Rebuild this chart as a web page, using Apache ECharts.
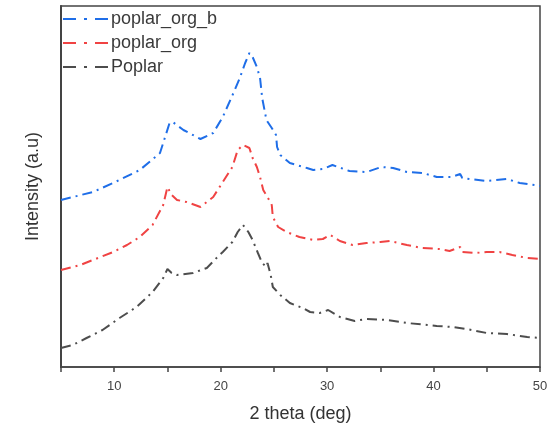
<!DOCTYPE html>
<html>
<head>
<meta charset="utf-8">
<script src="https://cdn.jsdelivr.net/npm/echarts@6/dist/echarts.min.js"></script>
<style>
  html, body { margin: 0; padding: 0; background: #fff; }
  #chart { width: 550px; height: 424px; }
</style>
</head>
<body>
<div id="chart"></div>
<script>
// XRD patterns, offset vertically (arbitrary intensity units)
const seriesNames = ['poplar_org_b', 'poplar_org', 'Poplar'];
const seriesColors = ['#1f6ee8', '#f04343', '#4d4d4d'];

const thetaOrgB = [5.0, 8.0, 9.9, 12.4, 14.3, 15.2, 15.5, 16.5, 18.1, 19.3, 20.2, 21.2, 21.8, 22.3, 22.7, 23.0, 23.4, 23.7, 23.9, 24.3, 24.8, 25.2, 25.3, 25.6, 26.5, 28.1, 28.7, 29.6, 30.5, 32.1, 33.7, 35.1, 36.2, 37.5, 39.0, 40.3, 41.7, 42.5, 42.7, 43.4, 45.0, 46.9, 48.1, 49.5, 50.0];
const intOrgB   = [167, 175, 184, 197, 214, 244, 245, 237, 228, 234, 250, 274, 289, 304, 314, 310, 300, 289, 269, 247, 239, 232, 220, 212, 204, 199, 197, 198, 202, 196, 195, 200, 199, 195, 194, 190, 190, 193, 189, 188, 186, 188, 184, 182, 181];

const thetaOrg = [5.0, 6.8, 8.0, 9.9, 11.2, 12.4, 13.6, 14.6, 15.0, 15.4, 15.9, 16.8, 18.1, 19.3, 20.2, 21.1, 21.6, 22.1, 22.7, 23.0, 23.4, 23.7, 24.0, 24.4, 24.8, 24.9, 25.4, 26.2, 27.4, 28.7, 29.6, 30.3, 31.2, 32.4, 33.7, 35.0, 35.9, 37.5, 38.9, 40.6, 41.5, 42.5, 42.7, 43.9, 45.0, 46.2, 47.4, 48.8, 50.0];
const intOrg   = [97, 102, 107, 115, 122, 130, 142, 162, 180, 172, 167, 165, 160, 170, 185, 200, 217, 222, 219, 209, 200, 190, 177, 170, 162, 150, 140, 135, 130, 127, 128, 132, 126, 122, 124, 125, 126, 122, 119, 118, 116, 120, 115, 114, 115, 115, 112, 109, 108];

const thetaPoplar = [5.0, 6.1, 7.4, 8.9, 10.5, 12.1, 13.6, 14.6, 15.0, 15.4, 15.9, 17.4, 18.7, 19.7, 20.2, 21.1, 21.6, 22.1, 22.6, 23.0, 23.5, 23.9, 24.3, 24.4, 24.7, 24.9, 25.6, 26.5, 27.7, 28.4, 29.3, 30.1, 31.2, 32.6, 33.7, 35.6, 37.5, 39.4, 40.3, 41.8, 43.1, 45.0, 46.9, 48.8, 50.0];
const intPoplar   = [19, 22, 29, 37, 49, 60, 75, 89, 98, 94, 92, 94, 99, 110, 115, 125, 135, 142, 135, 127, 114, 104, 100, 104, 92, 80, 72, 64, 59, 55, 54, 57, 50, 46, 48, 47, 44, 42, 41, 40, 38, 34, 33, 30, 29];

const xTickLabels = ['10', '20', '30', '40', '50'];

function pairs(xs, ys) {
  return xs.map((x, i) => [x, ys[i]]);
}

const dashDot = [10, 5, 2, 5];

function lineSeries(name, color, data) {
  return {
    name: name,
    type: 'line',
    data: data,
    showSymbol: false,
    symbol: 'none',
    smooth: false,
    lineStyle: { color: color, width: 2, type: dashDot },
    itemStyle: { color: color },
    emphasis: { disabled: true }
  };
}

const chart = echarts.init(document.getElementById('chart'), null, { renderer: 'canvas' });

chart.setOption({
  animation: false,
  backgroundColor: '#ffffff',
  textStyle: { fontFamily: 'Liberation Sans, Arial, sans-serif' },
  grid: {
    left: 61, right: 10, top: 6, bottom: 57,
    containLabel: false,
    outerBoundsMode: 'none',
    show: true, borderColor: '#444', borderWidth: 1.5, backgroundColor: 'transparent'
  },
  legend: {
    orient: 'vertical',
    left: 62, top: 6,
    padding: [4, 5, 5, 0],
    itemWidth: 48, itemHeight: 14, itemGap: 6,
    data: seriesNames,
    itemStyle: { opacity: 0 },
    lineStyle: { width: 2, type: [13, 8, 3, 8] },
    textStyle: { fontSize: 18, color: '#3a3a3a', fontFamily: 'Liberation Sans, Arial, sans-serif', padding: [0, 0, 0, -5] }
  },
  xAxis: {
    type: 'value',
    min: 5, max: 50, interval: 5,
    name: '2 theta (deg)',
    nameLocation: 'middle',
    nameGap: 38,
    nameTextStyle: { fontSize: 18, color: '#333' },
    axisLine: { show: true, onZero: false, lineStyle: { color: '#444', width: 1.5 } },
    axisTick: { show: true, inside: false, length: 5, lineStyle: { color: '#444', width: 1.5 } },
    axisLabel: {
      fontSize: 13, color: '#444', margin: 13,
      formatter: function (v) {
        const s = String(v);
        return xTickLabels.indexOf(s) >= 0 ? s : '';
      }
    },
    splitLine: { show: false }
  },
  yAxis: {
    type: 'value',
    min: 0, max: 361,
    name: 'Intensity (a.u)',
    nameLocation: 'middle',
    nameGap: 19,
    nameTextStyle: { fontSize: 18, color: '#333' },
    axisLine: { show: true, lineStyle: { color: '#444', width: 2 } },
    axisTick: { show: false },
    axisLabel: { show: false },
    splitLine: { show: false }
  },
  series: [
    lineSeries(seriesNames[0], seriesColors[0], pairs(thetaOrgB, intOrgB)),
    lineSeries(seriesNames[1], seriesColors[1], pairs(thetaOrg, intOrg)),
    lineSeries(seriesNames[2], seriesColors[2], pairs(thetaPoplar, intPoplar))
  ]
});
</script>
</body>
</html>
